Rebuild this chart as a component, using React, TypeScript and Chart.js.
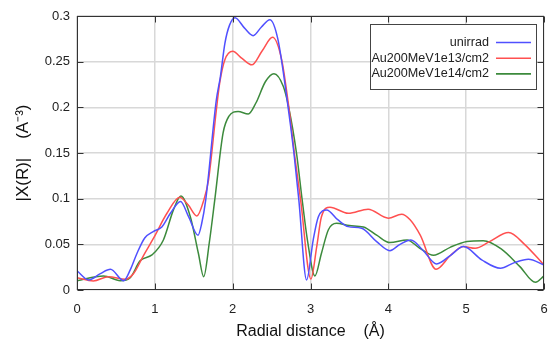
import { useEffect, useRef } from 'react';
import { Chart, registerables } from 'chart.js';

Chart.register(...registerables);

// ---------------- data ----------------
const xTickValues = [0, 1, 2, 3, 4, 5, 6];
const xTickLabels = ['0', '1', '2', '3', '4', '5', '6'];
const yTickValues = [0, 0.05, 0.1, 0.15, 0.2, 0.25, 0.3];
const yTickLabels = ['0', '0.05', '0.1', '0.15', '0.2', '0.25', '0.3'];

const seriesNames = ['unirrad', 'Au200MeV1e13/cm2', 'Au200MeV1e14/cm2'];

const unirradR = [0, 0.15, 0.3, 0.43, 0.6, 0.684, 0.77, 0.87, 0.98, 1.09, 1.2, 1.33, 1.435, 1.555, 1.6, 1.654, 1.79, 1.843, 1.9, 1.96, 2.03, 2.15, 2.263, 2.37, 2.478, 2.58, 2.7, 2.787, 2.85, 2.95, 3.035, 3.1, 3.207, 3.35, 3.485, 3.657, 3.85, 4.02, 4.15, 4.29, 4.45, 4.62, 4.8, 4.965, 5.2, 5.44, 5.62, 5.8, 6.0];
const unirradV = [0.021, 0.011, 0.018, 0.0227, 0.0102, 0.022, 0.04, 0.057, 0.064, 0.069, 0.084, 0.097, 0.08, 0.06, 0.072, 0.0987, 0.208, 0.234, 0.27, 0.29, 0.298, 0.287, 0.2785, 0.288, 0.296, 0.275, 0.208, 0.15, 0.0987, 0.011, 0.055, 0.08, 0.0877, 0.077, 0.0694, 0.0676, 0.053, 0.0431, 0.05, 0.0548, 0.043, 0.0285, 0.038, 0.0475, 0.033, 0.0238, 0.03, 0.0336, 0.0274];

const e13R = [0, 0.21, 0.405, 0.62, 0.727, 0.856, 0.985, 1.156, 1.32, 1.43, 1.54, 1.63, 1.69, 1.79, 1.834, 1.9, 2.0, 2.12, 2.245, 2.38, 2.512, 2.63, 2.726, 2.8, 2.873, 3.005, 3.08, 3.14, 3.25, 3.485, 3.74, 4.0, 4.17, 4.28, 4.41, 4.614, 4.8, 4.965, 5.115, 5.3, 5.545, 5.75, 6.0];
const e13V = [0.0135, 0.0099, 0.0146, 0.0117, 0.018, 0.038, 0.057, 0.084, 0.1016, 0.093, 0.081, 0.0987, 0.1206, 0.197, 0.227, 0.252, 0.2613, 0.2535, 0.2465, 0.262, 0.2767, 0.252, 0.197, 0.145, 0.0987, 0.012, 0.0475, 0.08, 0.0907, 0.084, 0.0885, 0.0786, 0.083, 0.0768, 0.06, 0.0227, 0.038, 0.0475, 0.0457, 0.053, 0.0629, 0.05, 0.0274];

const e14R = [0, 0.34, 0.556, 0.684, 0.81, 0.963, 1.11, 1.24, 1.335, 1.457, 1.56, 1.628, 1.7, 1.77, 1.877, 1.95, 2.07, 2.2, 2.3, 2.42, 2.53, 2.65, 2.72, 2.82, 2.893, 2.96, 3.057, 3.14, 3.23, 3.335, 3.5, 3.68, 3.85, 4.02, 4.24, 4.4, 4.58, 4.8, 5.01, 5.22, 5.45, 5.69, 5.89, 6.0];
const e14V = [0.0102, 0.0154, 0.0102, 0.0135, 0.032, 0.0384, 0.0548, 0.088, 0.103, 0.08, 0.04, 0.0146, 0.052, 0.0987, 0.172, 0.19, 0.1955, 0.1926, 0.205, 0.228, 0.2368, 0.223, 0.2, 0.15, 0.0987, 0.055, 0.0154, 0.04, 0.066, 0.073, 0.0705, 0.069, 0.06, 0.0519, 0.0548, 0.046, 0.038, 0.047, 0.053, 0.054, 0.045, 0.0256, 0.0084, 0.0154];

const seriesColors = ['rgb(80,80,255)', 'rgb(255,80,80)', 'rgb(60,138,60)'];

const FONT = '"Liberation Sans", Arial, sans-serif';

function toPoints(r: number[], v: number[]) {
  return r.map((x, i) => ({ x, y: v[i] }));
}

const framePlugin = {
  id: 'frameTicks',
  afterDatasetsDraw(chart: any) {
    const { ctx, chartArea } = chart;
    const xs = chart.scales.x;
    const ys = chart.scales.y;
    const l = Math.round(chartArea.left) + 0.5;
    const r = Math.round(chartArea.right) - 0.5;
    const t = Math.round(chartArea.top) + 0.5;
    const b = Math.round(chartArea.bottom) - 0.5;
    const tl = 6;
    ctx.save();
    ctx.strokeStyle = '#333';
    ctx.lineWidth = 1;
    ctx.strokeRect(l, t, r - l, b - t);
    ctx.beginPath();
    xTickValues.forEach((v) => {
      const px = Math.round(xs.getPixelForValue(v)) + 0.5;
      ctx.moveTo(px, b);
      ctx.lineTo(px, b - tl);
      ctx.moveTo(px, t);
      ctx.lineTo(px, t + tl);
    });
    yTickValues.forEach((v) => {
      const py = Math.round(ys.getPixelForValue(v)) + 0.5;
      ctx.moveTo(l, py);
      ctx.lineTo(l + tl, py);
      ctx.moveTo(r, py);
      ctx.lineTo(r - tl, py);
    });
    ctx.stroke();
    ctx.restore();
  },
};

const legendPlugin = {
  id: 'insideLegend',
  afterDraw(chart: any) {
    const { ctx, chartArea } = chart;
    const right = Math.round(chartArea.right) - 7;
    const top = Math.round(chartArea.top) + 8;
    const left = right - 167;
    const bottom = top + 66;
    ctx.save();
    ctx.fillStyle = '#fff';
    ctx.fillRect(left, top, right - left, bottom - top);
    ctx.strokeStyle = '#444';
    ctx.lineWidth = 1;
    ctx.strokeRect(left + 0.5, top + 0.5, right - left - 1, bottom - top - 1);
    ctx.font = `12.6px ${FONT}`;
    ctx.textAlign = 'right';
    ctx.textBaseline = 'middle';
    chart.data.datasets.forEach((ds: any, i: number) => {
      const y = top + 18.5 + i * 15.7;
      ctx.fillStyle = '#222';
      ctx.fillText(ds.label, right - 48, y);
      ctx.strokeStyle = ds.borderColor;
      ctx.lineWidth = 1.6;
      ctx.beginPath();
      ctx.moveTo(right - 41, y);
      ctx.lineTo(right - 6, y);
      ctx.stroke();
    });
    ctx.restore();
  },
};

export default function App() {
  const ref = useRef<HTMLCanvasElement | null>(null);

  useEffect(() => {
    if (!ref.current) return;
    const seriesR = [unirradR, e13R, e14R];
    const seriesV = [unirradV, e13V, e14V];
    const chart = new Chart(ref.current, {
      type: 'line',
      data: {
        datasets: seriesNames.map((name, i) => ({
          label: name,
          data: toPoints(seriesR[i], seriesV[i]),
          borderColor: seriesColors[i],
          borderWidth: 1.5,
          pointRadius: 0,
          fill: false,
          cubicInterpolationMode: 'monotone' as const,
        })),
      },
      options: {
        responsive: false,
        animation: false,
        layout: { padding: { top: 16, right: 7, left: 0, bottom: 0 } },
        plugins: {
          legend: { display: false },
          tooltip: { enabled: false },
        },
        scales: {
          x: {
            type: 'linear',
            min: 0,
            max: 6,
            afterBuildTicks: (s: any) => {
              s.ticks = xTickValues.map((v) => ({ value: v }));
            },
            afterFit: (s: any) => {
              s.height = 51;
              s.paddingLeft = 0;
              s.paddingRight = 0;
            },
            grid: { color: '#d8d8d8', lineWidth: 1.5, drawTicks: false },
            border: { display: false },
            ticks: {
              padding: 12,
              autoSkip: false,
              maxRotation: 0,
              color: '#222',
              font: { family: FONT, size: 13 },
              callback: (_v: any, i: number) => xTickLabels[i],
            },
            title: {
              display: true,
              text: 'Radial distance    (Å)',
              color: '#111',
              font: { family: FONT, size: 16 },
              padding: { top: 0, bottom: 0 },
            },
          },
          y: {
            type: 'linear',
            min: 0,
            max: 0.3,
            afterBuildTicks: (s: any) => {
              s.ticks = yTickValues.map((v) => ({ value: v }));
            },
            afterFit: (s: any) => {
              s.width = 77;
            },
            grid: { color: '#d8d8d8', lineWidth: 1.5, drawTicks: false },
            border: { display: false },
            ticks: {
              padding: 7,
              autoSkip: false,
              color: '#222',
              font: { family: FONT, size: 13 },
              callback: (_v: any, i: number) => yTickLabels[i],
            },
            title: {
              display: true,
              text: '|X(R)|    (A⁻³)',
              color: '#111',
              font: { family: FONT, size: 17 },
              padding: { top: 13, bottom: 0 },
            },
          },
        },
      },
      plugins: [framePlugin, legendPlugin],
    } as any);
    return () => chart.destroy();
  }, []);

  return (
    <div style={{ position: 'fixed', left: 0, top: 0, width: 551, height: 341, background: '#fff' }}>
      <canvas ref={ref} width={551} height={341} style={{ width: '551px', height: '341px' }} />
    </div>
  );
}
